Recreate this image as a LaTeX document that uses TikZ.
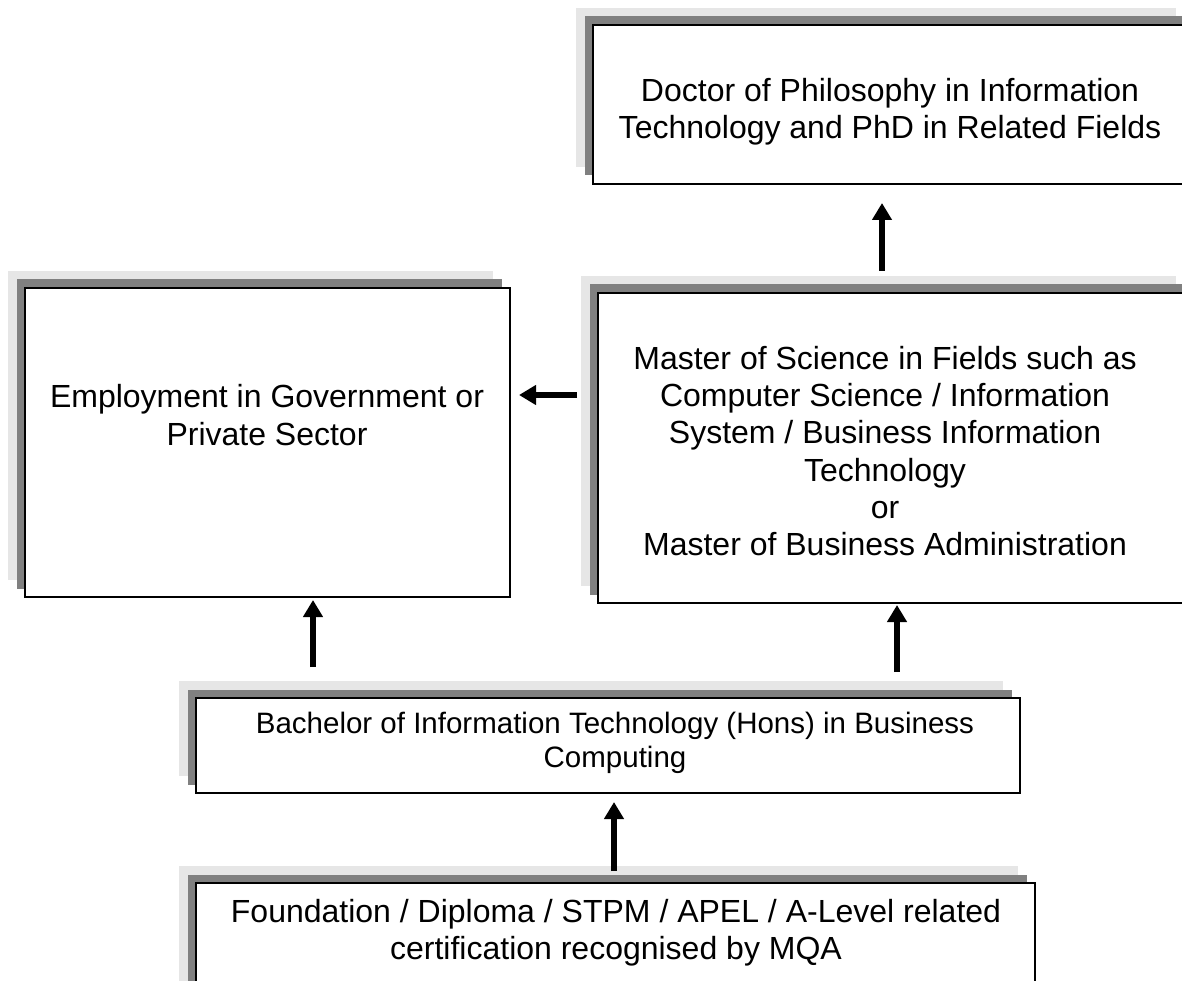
\documentclass[tikz,border=0pt]{standalone}
\usepackage{fontspec}
\setmainfont{Liberation Sans}
\usetikzlibrary{arrows.meta,shadows}
\definecolor{shadowlight}{HTML}{E6E6E6}
\definecolor{shadowdark}{HTML}{808080}
\tikzset{
  box/.style={rectangle, draw=black, line width=2pt, fill=white, inner sep=0pt, anchor=north west,
    copy shadow={shadow xshift=-17pt, shadow yshift=17pt, fill=shadowlight, draw=none},
    copy shadow={shadow xshift=-8.5pt, shadow yshift=8.5pt, fill=shadowdark, draw=none}},
  bigtext/.style={align=center, font=\fontsize{32}{37.3}\selectfont},
  smalltext/.style={align=center, font=\fontsize{29.5}{34}\selectfont},
  arr/.style={line width=6pt, -{Triangle[width=19pt,length=17pt]}}
}
\begin{document}
\begin{tikzpicture}
\useasboundingbox (0pt,0pt) rectangle (1182pt,-981pt);
% boxes
\node[box, minimum width=600pt, minimum height=159pt] (phd) at (592pt,-24pt) {};
\node[box, minimum width=485pt, minimum height=309pt] (emp) at (24pt,-287pt) {};
\node[box, minimum width=595pt, minimum height=310pt] (mas) at (597pt,-292pt) {};
\node[box, minimum width=824pt, minimum height=95pt] (bac) at (195pt,-697pt) {};
\node[box, minimum width=839pt, minimum height=118pt] (fou) at (195pt,-882pt) {};
% texts
\node[bigtext] (tphd) at (890pt,-112pt) {Doctor of Philosophy in Information\\Technology and PhD in Related Fields};
\node[bigtext] (temp) at (267pt,-415pt) {Employment in Government or\\Private Sector};
\node[bigtext] (tmas) at (885pt,-451pt) {Master of Science in Fields such as\\Computer Science / Information\\System / Business Information\\Technology\\or\\Master of Business Administration};
\node[smalltext] (tbac) at (615pt,-743pt) {Bachelor of Information Technology (Hons) in Business\\Computing};
\node[bigtext] (tfou) at (616pt,-933pt) {Foundation / Diploma / STPM / APEL / A-Level related\\certification recognised by MQA};
% arrows
\draw[arr] ([shift={(285pt,21pt)}]mas.north west) -- ([shift={(290pt,-18pt)}]phd.south west);
\draw[arr] ([shift={(-20pt,-103pt)}]mas.north west) -- ([shift={(8pt,-108pt)}]emp.north east);
\draw[arr] ([shift={(118pt,30pt)}]bac.north west) -- ([shift={(289pt,-2pt)}]emp.south west);
\draw[arr] ([shift={(702pt,25pt)}]bac.north west) -- ([shift={(300pt,-1pt)}]mas.south west);
\draw[arr] ([shift={(419pt,11pt)}]fou.north west) -- ([shift={(419pt,-8pt)}]bac.south west);
\end{tikzpicture}
\end{document}
